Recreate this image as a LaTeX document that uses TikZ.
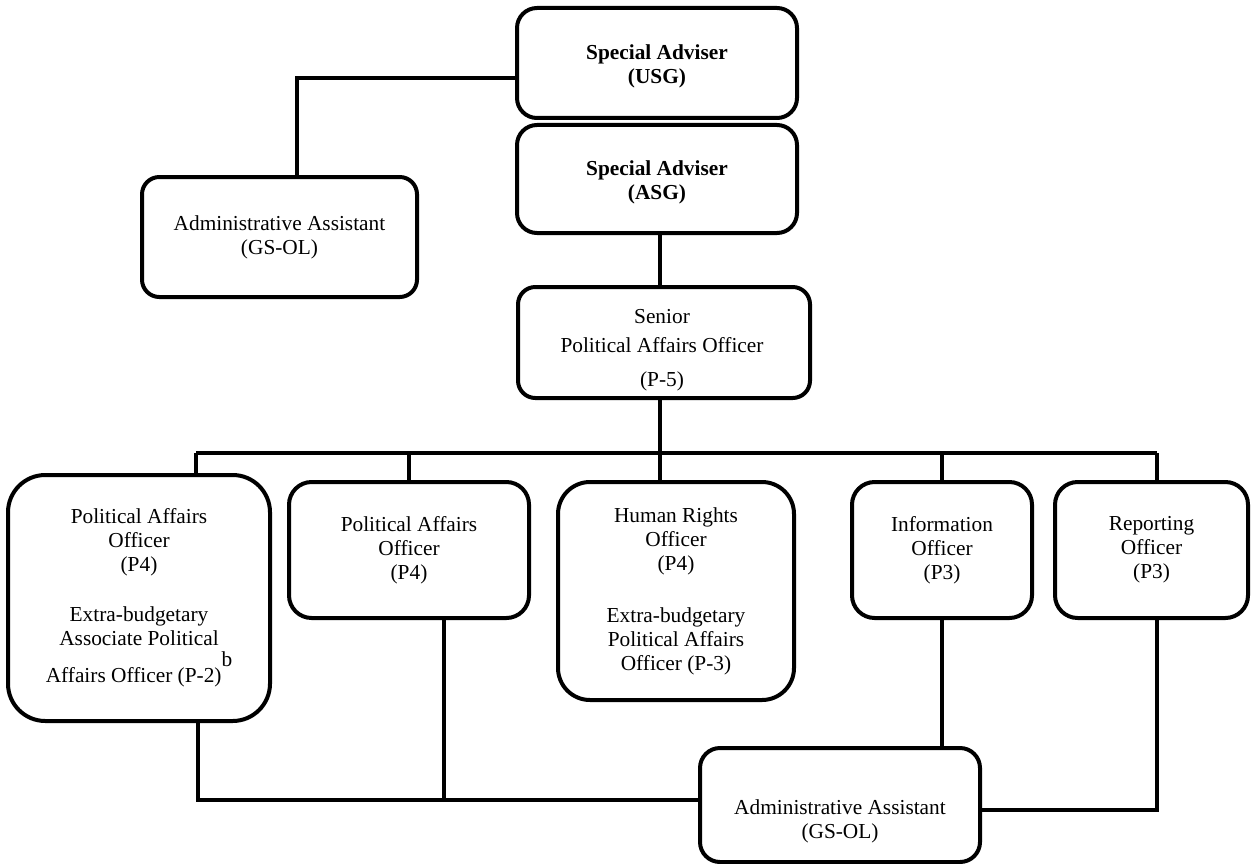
\documentclass[tikz,border=0pt]{standalone}
\usepackage{fontspec}
\setmainfont{Liberation Serif}
\begin{document}
\begin{tikzpicture}[x=0.75pt,y=-0.75pt,
  box/.style={draw=black,line width=3pt,fill=white,align=center,inner sep=0pt,
    font=\fontsize{16}{18}\selectfont},
  conn/.style={draw=black,line width=2.8pt},
  txt/.style={align=center,inner sep=0pt,font=\fontsize{16}{18}\selectfont}]
\useasboundingbox (0,0) rectangle (1251,863);
% boxes
\node[box,rounded corners=15pt,minimum width=210pt,minimum height=82.5pt] (usg) at (657,63) {};
\node[txt,font=\fontsize{16}{18}\selectfont\bfseries] (usgt) at (657,66) {Special Adviser\\(USG)};
\node[box,rounded corners=15pt,minimum width=210pt,minimum height=81pt] (asg) at (657,179) {};
\node[txt,font=\fontsize{16}{18}\selectfont\bfseries] (asgt) at (657,182) {Special Adviser\\(ASG)};
\node[box,rounded corners=13pt,minimum width=206.25pt,minimum height=90pt] (aa1) at (279.5,237) {Administrative Assistant\\(GS-OL)};
\node[box,rounded corners=13pt,minimum width=219pt,minimum height=83.25pt] (spo) at (664,342.5) {};
\node[txt] (spot) at (662,350) {Senior\\[4pt]Political Affairs Officer\\[7pt](P-5)};
\node[box,rounded corners=28pt,minimum width=196.5pt,minimum height=184.5pt] (pao1) at (139,598) {Political Affairs\\Officer\\(P4)\\[19.5pt]Extra-budgetary\\Associate Political\\[9.75pt]Affairs Officer (P-2)\smash{\raisebox{12pt}{b}}};
\node[box,rounded corners=17pt,minimum width=180pt,minimum height=102pt] (pao2) at (409,550) {Political Affairs\\Officer\\(P4)};
\node[box,rounded corners=24pt,minimum width=177pt,minimum height=163.5pt] (hr) at (676,591) {Human Rights\\Officer\\(P4)\\[21pt]Extra-budgetary\\Political Affairs\\Officer (P-3)};
\node[box,rounded corners=17pt,minimum width=135pt,minimum height=102pt] (info) at (942,550) {Information\\Officer\\(P3)};
\node[box,rounded corners=17pt,minimum width=144.75pt,minimum height=102pt] (rep) at (1151.5,550) {Reporting\\Officer\\(P3)};
\node[box,rounded corners=15pt,minimum width=210pt,minimum height=85.5pt] (aa2) at (840,805) {};
\node[txt] (aa2t) at (840,821) {Administrative Assistant\\(GS-OL)};
% bus coordinates
\coordinate (busL) at (196,453);
\coordinate (busR) at (1157,453);
\coordinate (busM) at (660,453);
\coordinate (botL) at (198,800);
\coordinate (botM) at (444,800);
% connectors
\draw[conn] ([yshift=-11.25pt]usg.west) -| ([xshift=13.125pt]aa1.north);
\draw[conn] ([xshift=2.25pt]asg.south) -- ([xshift=-3pt]spo.north);
\draw[conn] ([xshift=-3pt]spo.south) -- (busM);
\draw[conn] (busL) -- (busR);
\draw[conn] (busL) -- (busL |- pao1.north);
\draw[conn] (busL -| pao2.north) -- (pao2.north);
\draw[conn] (busM) -- (busM |- hr.north);
\draw[conn] (busL -| info.north) -- (info.north);
\draw[conn] (busR) -- (busR |- rep.north);
\draw[conn] (botL |- pao1.south) -- (botL) -- (botL -| aa2.west);
\draw[conn] (botM |- pao2.south) -- (botM);
\draw[conn] (info.south) -- (info.south |- aa2.north);
\draw[conn] (busR |- rep.south) -- (1157,810) -- (aa2.east |- 0,810);
\end{tikzpicture}
\end{document}
